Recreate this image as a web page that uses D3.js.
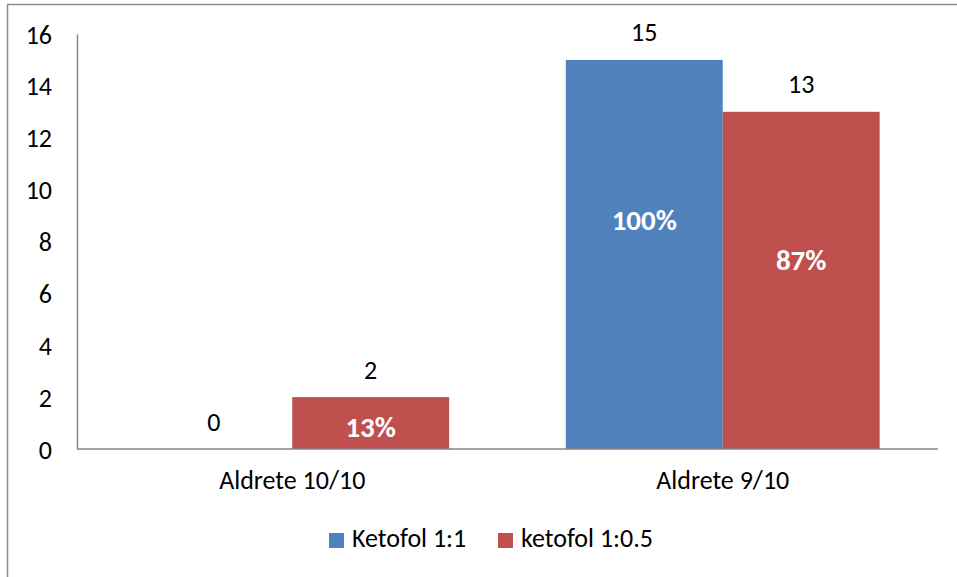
<!DOCTYPE html>
<html lang="en">
<head>
	<meta charset="UTF-8">
	<title>Aldrete score by ketofol ratio</title>
	<script src="https://unpkg.com/d3@7/dist/d3.min.js"></script>
	<style>
		body{ margin:0; background:#fff; }
		text{ font-family: Carlito, Lato, "Liberation Sans", sans-serif; fill:#000; }
		.axis path.domain{ stroke:#868686; stroke-width:1.5; }
		.axis .tick line{ display:none; }
		.axis text{ font-size:26px; }
		.valueLabel{ font-size:26px; }
		.pctLabel{ font-size:29px; font-weight:bold; fill:#fff; }
		.legend text{ font-size:26px; }
	</style>
</head>
<body>
	<div id="main"></div>
	<script>
		var categories = ["Aldrete 10/10", "Aldrete 9/10"];
		var seriesNames = ["Ketofol 1:1", "ketofol 1:0.5"];
		var ketofol11 = [0, 15];
		var ketofol105 = [2, 13];
		var pctLabels11 = ["", "100%"];
		var pctLabels105 = ["13%", "87%"];
		var yTicks = [0, 2, 4, 6, 8, 10, 12, 14, 16];

		var colors = ["#4F81BD", "#C0504D"];
		// where the white percentage text sits in each bar, as a share of the bar height
		var pctPlace11 = [0, 0.563];
		var pctPlace105 = [0.23, 0.53];

		var width = 957, height = 577,
			margin = {left:77, top:34, right:19, bottom:128};

		var svg = d3.select("#main").append("svg")
			.attr("width", width)
			.attr("height", height);

		// outer chart frame (only top/left edges fall inside the picture)
		svg.append("rect")
			.attr("x", 7.5).attr("y", 4.5)
			.attr("width", width + 20).attr("height", height + 20)
			.attr("fill", "none")
			.attr("stroke", "#8c8c8c")
			.attr("stroke-width", 1.5);

		var x0 = d3.scaleBand()
			.domain(categories)
			.range([margin.left, width - margin.right])
			.paddingInner(0.271)
			.paddingOuter(0.1355);

		var x1 = d3.scaleBand()
			.domain(seriesNames)
			.range([0, x0.bandwidth()]);

		var y = d3.scaleLinear()
			.domain([0, 16])
			.range([height - margin.bottom, margin.top]);

		var rows = categories.map(function(c, i){
			return {
				cat: c,
				vals: [
					{s: seriesNames[0], v: ketofol11[i], pct: pctLabels11[i], at: pctPlace11[i], c: colors[0]},
					{s: seriesNames[1], v: ketofol105[i], pct: pctLabels105[i], at: pctPlace105[i], c: colors[1]}
				]
			};
		});

		var groups = svg.selectAll("g.group")
			.data(rows)
			.enter().append("g")
			.attr("class", "group")
			.attr("transform", function(d){ return "translate(" + x0(d.cat) + ",0)"; });

		groups.selectAll("rect.bar")
			.data(function(d){ return d.vals; })
			.enter().append("rect")
			.attr("class", "bar")
			.attr("x", function(d){ return x1(d.s); })
			.attr("width", x1.bandwidth())
			.attr("y", function(d){ return y(d.v); })
			.attr("height", function(d){ return y(0) - y(d.v); })
			.attr("fill", function(d){ return d.c; });

		groups.selectAll("text.valueLabel")
			.data(function(d){ return d.vals; })
			.enter().append("text")
			.attr("class", "valueLabel")
			.attr("x", function(d){ return x1(d.s) + x1.bandwidth()/2; })
			.attr("y", function(d){ return y(d.v) - 18.5; })
			.attr("text-anchor", "middle")
			.text(function(d){ return d.v; });

		groups.selectAll("text.pctLabel")
			.data(function(d){ return d.vals.filter(function(e){ return e.pct; }); })
			.enter().append("text")
			.attr("class", "pctLabel")
			.attr("x", function(d){ return x1(d.s) + x1.bandwidth()/2; })
			.attr("y", function(d){ return y(d.v * d.at); })
			.attr("text-anchor", "middle")
			.text(function(d){ return d.pct; });

		var yAxis = svg.append("g")
			.attr("class", "axis y")
			.attr("transform", "translate(" + margin.left + ",0)")
			.call(d3.axisLeft(y).tickValues(yTicks).tickSize(0).tickSizeOuter(0).tickPadding(25));

		yAxis.selectAll("text").attr("dy", "0.35em");

		var xAxis = svg.append("g")
			.attr("class", "axis x")
			.attr("transform", "translate(0," + y(0) + ")")
			.call(d3.axisBottom(x0).tickSize(0).tickSizeOuter(0).tickPadding(22));

		// stretch the baseline across the whole plot
		xAxis.select("path.domain")
			.attr("d", "M" + margin.left + ",0H" + (width - margin.right));

		var legend = svg.append("g")
			.attr("class", "legend")
			.attr("transform", "translate(329,533)");

		var legendX = [0, 169];
		var items = legend.selectAll("g.item")
			.data(seriesNames)
			.enter().append("g")
			.attr("class", "item")
			.attr("transform", function(d, i){ return "translate(" + legendX[i] + ",0)"; });

		items.append("rect")
			.attr("width", 15).attr("height", 15)
			.attr("fill", function(d, i){ return colors[i]; });

		items.append("text")
			.attr("x", 23).attr("y", 14)
			.text(function(d){ return d; });
	</script>
</body>
</html>
